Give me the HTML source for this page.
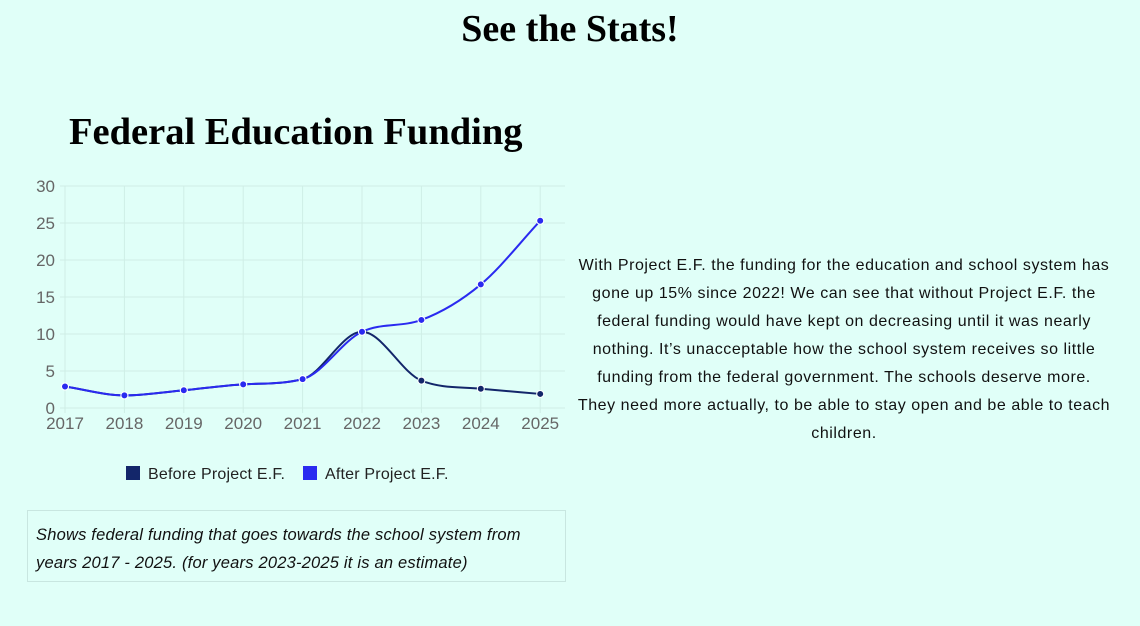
<!DOCTYPE html>
<html><head><meta charset="utf-8"><style>
body{margin:0;width:1140px;height:626px;background:#e0fff8;font-family:"Liberation Sans",sans-serif;position:relative;overflow:hidden}
.t1{position:absolute;top:7px;left:0;width:1140px;text-align:center;font:bold 38px "Liberation Serif",serif}
.t2{position:absolute;top:110px;left:69px;font:bold 38.5px "Liberation Serif",serif}
.p{position:absolute;left:544px;top:252px;width:600px;text-align:center;font-size:16px;line-height:28px;color:#111;letter-spacing:0.55px;white-space:nowrap}
.cap{position:absolute;left:27px;top:510px;width:539px;height:72px;border:1px solid #c8e6e0;box-sizing:border-box;font-style:italic;font-size:16.5px;line-height:28px;padding:10px 30px 0 8px;color:#111;letter-spacing:0.2px}
.lg{position:absolute;top:466px;font-size:16px;color:#222;letter-spacing:0.2px}
.sq{display:inline-block;width:14px;height:14px;vertical-align:-1px;margin-right:8px}
</style></head><body>
<div class="t1">See the Stats!</div>
<div class="t2">Federal Education Funding</div>
<svg id="c" width="580" height="450" style="position:absolute;left:0;top:0" font-family="Liberation Sans, sans-serif"></svg>
<div class="lg" style="left:126px"><span class="sq" style="background:#13266a"></span>Before Project E.F.</div>
<div class="lg" style="left:303px"><span class="sq" style="background:#2a2af0"></span>After Project E.F.</div>
<div class="p">With Project E.F. the funding for the education and school system has<br>gone up 15% since 2022! We can see that without Project E.F. the<br>federal funding would have kept on decreasing until it was nearly<br>nothing. It’s unacceptable how the school system receives so little<br>funding from the federal government. The schools deserve more.<br>They need more actually, to be able to stay open and be able to teach<br>children.</div>
<div class="cap">Shows federal funding that goes towards the school system from years 2017 - 2025. (for years 2023-2025 it is an estimate)</div>
<script>
var s=document.getElementById('c'),h='';
function X(i){return 65+i*59.4}function Y(v){return 408-v*7.4}
for(var v=0;v<=30;v+=5){h+='<line x1="60" x2="565" y1="'+Y(v)+'" y2="'+Y(v)+'" stroke="#cfeee6"/>';h+='<text x="55" y="'+(Y(v)+6)+'" text-anchor="end" font-size="17" fill="#666">'+v+'</text>'}
for(var i=0;i<9;i++){h+='<line x1="'+X(i)+'" x2="'+X(i)+'" y1="186" y2="413" stroke="#cfeee6"/>';h+='<text x="'+X(i)+'" y="429" text-anchor="middle" font-size="17" fill="#666">'+(2017+i)+'</text>'}
function path(d){var n=d.length,dl=[],m=[];for(var i=0;i<n-1;i++)dl.push(d[i+1]-d[i]);
m[0]=dl[0];m[n-1]=dl[n-2];for(i=1;i<n-1;i++){m[i]=dl[i-1]*dl[i]<=0?0:(dl[i-1]+dl[i])/2}
for(i=0;i<n-1;i++){if(dl[i]==0){m[i]=m[i+1]=0;continue}var a=m[i]/dl[i],b=m[i+1]/dl[i],t=a*a+b*b;if(t>9){var k=3/Math.sqrt(t);m[i]=k*a*dl[i];m[i+1]=k*b*dl[i]}}
var p='M'+X(0)+','+Y(d[0]);for(i=0;i<n-1;i++){var dx=59.4/3;p+=' C'+(X(i)+dx)+','+Y(d[i]+m[i]/3)+' '+(X(i+1)-dx)+','+Y(d[i+1]-m[i+1]/3)+' '+X(i+1)+','+Y(d[i+1])}return p}
var A=[2.9,1.7,2.4,3.2,3.9,10.3,3.7,2.6,1.9],B=[2.9,1.7,2.4,3.2,3.9,10.3,11.9,16.7,25.3];
h+='<path d="'+path(A)+'" fill="none" stroke="#13266a" stroke-width="2"/>';
h+='<path d="'+path(B)+'" fill="none" stroke="#2a2af0" stroke-width="2"/>';
A.forEach(function(v,i){h+='<circle cx="'+X(i)+'" cy="'+Y(v)+'" r="3.5" fill="#13266a" stroke="#fff" stroke-width="1"/>'});
B.forEach(function(v,i){h+='<circle cx="'+X(i)+'" cy="'+Y(v)+'" r="3.5" fill="#2a2af0" stroke="#fff" stroke-width="1"/>'});
s.innerHTML=h;
</script>
</body></html>
